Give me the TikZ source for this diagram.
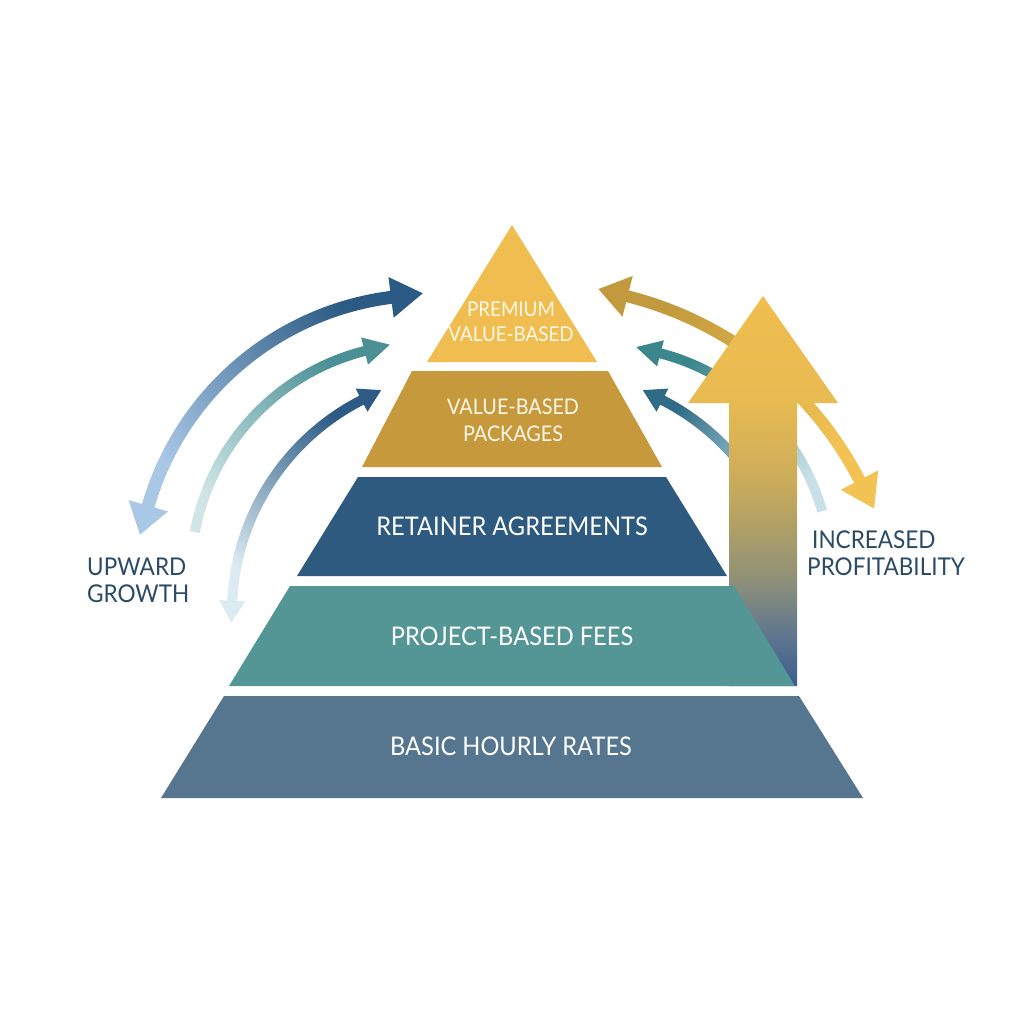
\documentclass[tikz,border=0pt]{standalone}
\usepackage{fontspec}
\setmainfont{Lato}[FakeStretch=0.92]
\usetikzlibrary{calc}
\definecolor{Lone}{HTML}{F0BE50}
\definecolor{Ltwo}{HTML}{C6993C}
\definecolor{Lthree}{HTML}{2E5A80}
\definecolor{Lfour}{HTML}{549696}
\definecolor{Lfive}{HTML}{56768F}
\definecolor{labtext}{HTML}{2B4A66}
\definecolor{cream}{HTML}{FFF8EA}
\definecolor{Atop}{HTML}{2B5A84}
\definecolor{Abot}{HTML}{A9C8E6}
\definecolor{Bhead}{HTML}{4A9094}
\definecolor{Btail}{HTML}{CFE5E6}
\definecolor{Chead}{HTML}{2D5B85}
\definecolor{Ctail}{HTML}{DCEBF2}
\definecolor{Ddark}{HTML}{C29A3D}
\definecolor{Dlight}{HTML}{F2C252}
\definecolor{Ehead}{HTML}{3C878D}
\definecolor{Etail}{HTML}{C9E0E8}
\definecolor{Fhead}{HTML}{2F6B86}
\definecolor{Ftail}{HTML}{9FC6D4}
\definecolor{bAa}{HTML}{3A5E8C}
\definecolor{bAb}{HTML}{5B7490}
\definecolor{bAc}{HTML}{8E9079}
\definecolor{bAd}{HTML}{B4A264}
\definecolor{bAe}{HTML}{D0AE58}
\definecolor{bAf}{HTML}{E8BA52}
\definecolor{bAg}{HTML}{F0BE4E}
\pgfdeclareverticalshading{bigarrowshade}{100bp}{color(0bp)=(bAa); color(25bp)=(bAa); color(30.9bp)=(bAb); color(38.6bp)=(bAc); color(46.3bp)=(bAd); color(52.7bp)=(bAe); color(61.7bp)=(bAf); color(75bp)=(bAg); color(100bp)=(bAg)}
% #1 centre, #2 radius, #3 width, #4 start angle, #5 end angle, #6 top colour, #7 bottom colour, #8 shading angle
\newcommand\ArcBody[8]{%
  \shade[top color=#6, bottom color=#7, shading angle=#8]
    ($(#1)+(#4:{#2+#3/2})$) arc[start angle=#4, end angle=#5, radius={#2+#3/2}]
    -- ($(#1)+(#5:{#2-#3/2})$) arc[start angle=#5, end angle=#4, radius={#2-#3/2}] -- cycle;}
% #1 centre, #2 radius, #3 base angle, #4 tangent offset (90 or -90), #5 length, #6 width, #7 colour
\newcommand\ArcHead[7]{%
  \fill[#7] ($(#1)+(#3:{#2+#6/2})$) -- ($(#1)+(#3:#2)+({#3+(#4)}:#5)$) -- ($(#1)+(#3:{#2-#6/2})$) -- cycle;}
\tikzset{
  layerlab/.style={font=\fontsize{25.7}{30}\selectfont, text=white, inner sep=0pt, align=center},
  goldlab/.style={font=\fontsize{20.4}{25}\selectfont, text=cream, inner sep=0pt, align=center},
  sidelab/.style={font=\fontsize{24.5}{27.5}\selectfont, text=labtext, inner sep=0pt, align=left},
}
\begin{document}
\begin{tikzpicture}[x=1pt,y=-1pt]
\useasboundingbox (0,0) rectangle (1024,1024);
\fill[white] (0,0) rectangle (1024,1024);
% centres of the curved arrows
\coordinate (cA) at (428,586);
\coordinate (cB) at (421,574);
\coordinate (cC) at (470,612);
\coordinate (cD) at (540,645);
\coordinate (cE) at (603,574);
\coordinate (cF) at (554,612);
% right-hand curved arrows (behind the big arrow)
\ArcBody{cD}{359.5}{12}{-76.5}{-26.5}{Ddark}{Dlight}{52}
\ArcHead{cD}{359.5}{-75.9}{-90}{30}{42}{Ddark}
\ArcHead{cD}{359.5}{-27.3}{90}{32}{42}{Dlight}
\ArcBody{cE}{228}{10}{-16}{-76}{Ehead}{Etail}{48}
\ArcHead{cE}{228}{-75.4}{-90}{25}{27}{Ehead}
\ArcBody{cF}{238}{10}{-30}{-63.5}{Fhead}{Ftail}{47}
\ArcHead{cF}{238}{-62.9}{-90}{22}{26}{Fhead}
% big upward arrow
\shade[shading=bigarrowshade] (729,686) -- (729,403) -- (688,403) -- (763,296) -- (838,403) -- (797,403) -- (797,686) -- cycle;
% left-hand curved arrows
\ArcBody{cA}{291}{13}{195}{263.5}{Atop}{Abot}{-50}
\ArcHead{cA}{291}{196}{-90}{30}{41}{Abot}
\ArcHead{cA}{291}{262.7}{90}{32}{41}{Atop}
\ArcBody{cB}{230}{10}{190.5}{256.5}{Bhead}{Btail}{-45}
\ArcHead{cB}{230}{255.8}{90}{26}{28}{Bhead}
\ArcBody{cC}{238}{10}{182}{243.5}{Chead}{Ctail}{-33}
\ArcHead{cC}{238}{182.7}{-90}{22}{26}{Ctail}
\ArcHead{cC}{238}{242.9}{90}{22}{26}{Chead}
% pyramid
\fill[Lone] (512,225) -- (597,362) -- (427,362) -- cycle;
\fill[Ltwo] (412,371) -- (608,371) -- (662,467) -- (362,467) -- cycle;
\fill[Lthree] (358,477) -- (666,477) -- (727,576) -- (297,576) -- cycle;
\fill[Lfour] (290,586) -- (734,586) -- (795,686) -- (229,686) -- cycle;
\fill[Lfive] (224,696) -- (799,696) -- (863,798) -- (161,798) -- cycle;
% labels
\node[goldlab] (t1) at (511,322) {PREMIUM\\VALUE-BASED};
\node[goldlab, font=\fontsize{21.5}{27}\selectfont] (t2) at (513,420.5) {VALUE-BASED\\PACKAGES};
\node[layerlab] (t3) at (512,526) {RETAINER AGREEMENTS};
\node[layerlab] (t4) at (512,636) {PROJECT-BASED FEES};
\node[layerlab] (t5) at (511,746) {BASIC HOURLY RATES};
\node[sidelab, anchor=west] (up) at (87,580.5) {UPWARD\\GROWTH};
\node[sidelab, anchor=west] (inc) at (807,553) {\hspace{5pt}INCREASED\\PROFITABILITY};
\end{tikzpicture}
\end{document}
